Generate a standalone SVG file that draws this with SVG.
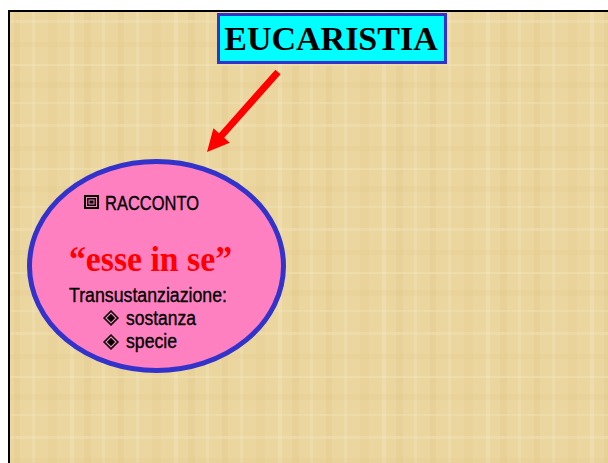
<svg xmlns="http://www.w3.org/2000/svg" width="608" height="463" viewBox="0 0 608 463">
<style>
.ttl{font-family:"Liberation Serif","Times New Roman",serif;font-weight:bold;}
.nar{font-family:"Liberation Sans",Arial,sans-serif;fill:#000;stroke:#000;stroke-width:0.35;}
</style>
<defs>
<pattern id="pap" x="10" y="12" width="104" height="104" patternUnits="userSpaceOnUse">
<rect width="104" height="104" fill="#EBD6A0"/>
<rect x="4" y="0" width="6" height="104" fill="#DCC07A" opacity="0.22"/>
<rect x="22" y="0" width="3" height="104" fill="#F6E8C2" opacity="0.3"/>
<rect x="38" y="0" width="9" height="104" fill="#E0C684" opacity="0.2"/>
<rect x="60" y="0" width="4" height="104" fill="#F7EBC8" opacity="0.3"/>
<rect x="74" y="0" width="7" height="104" fill="#D8BC76" opacity="0.2"/>
<rect x="92" y="0" width="3" height="104" fill="#F6E8C2" opacity="0.28"/>
<rect x="0" y="8" width="104" height="3" fill="#F7EBC8" opacity="0.25"/>
<rect x="0" y="30" width="104" height="5" fill="#DCC07A" opacity="0.15"/>
<rect x="0" y="52" width="104" height="2" fill="#F7EBC8" opacity="0.28"/>
<rect x="0" y="70" width="104" height="6" fill="#DCC07A" opacity="0.14"/>
<rect x="0" y="90" width="104" height="2" fill="#F7EBC8" opacity="0.25"/>
</pattern>
<g id="sqicon">
<rect x="0" y="0" width="15" height="14" fill="#000"/>
<rect x="2.5" y="2.5" width="10" height="9" fill="none" stroke="#FF80C0" stroke-width="1"/>
<rect x="5" y="5" width="5" height="4" fill="none" stroke="#FF80C0" stroke-width="1"/>
</g>
<g id="dmicon">
<polygon points="0,-8 8,0 0,8 -8,0" fill="#000"/>
<polygon points="0,-5 5,0 0,5 -5,0" fill="none" stroke="#FF80C0" stroke-width="1.2"/>
<polygon points="0,-2 2,0 0,2 -2,0" fill="#000"/>
</g>
</defs>
<rect x="0" y="0" width="608" height="463" fill="#FFFFFF"/>
<rect x="10" y="12" width="598" height="451" fill="url(#pap)"/>
<rect x="8" y="10" width="600" height="2" fill="#000"/>
<rect x="8" y="10" width="2" height="453" fill="#000"/>

<g id="connectors">
<polygon points="280.6,74.3 275.4,69.7 219.0,133.2 213.4,128.2 207,152 229.8,142.8 224.2,137.8" fill="#FF0000"/>
</g>

<g id="title">
<rect x="218.5" y="14.5" width="227" height="48" fill="#00FFFF" stroke="#3333CC" stroke-width="3"/>
<text class="ttl" x="331" y="50" font-size="34" text-anchor="middle" fill="#000">EUCARISTIA</text>
</g>

<g id="ellipse">
<ellipse cx="156.5" cy="266" rx="127" ry="104.5" fill="#FF80C0" stroke="#3333CC" stroke-width="5"/>
<use href="#sqicon" x="84" y="195"/>
<text class="nar" x="105" y="210" font-size="20.5" textLength="94" lengthAdjust="spacingAndGlyphs">RACCONTO</text>
<text class="ttl" x="69" y="271" font-size="35" fill="#FF0000" textLength="163" lengthAdjust="spacingAndGlyphs">“esse in se”</text>
<text class="nar" x="69" y="302" font-size="20" textLength="158" lengthAdjust="spacingAndGlyphs">Transustanziazione:</text>
<use href="#dmicon" x="111" y="318"/>
<text class="nar" x="126" y="325" font-size="20" textLength="70" lengthAdjust="spacingAndGlyphs">sostanza</text>
<use href="#dmicon" x="111" y="342"/>
<text class="nar" x="126" y="348" font-size="20" textLength="51" lengthAdjust="spacingAndGlyphs">specie</text>
</g>
</svg>
